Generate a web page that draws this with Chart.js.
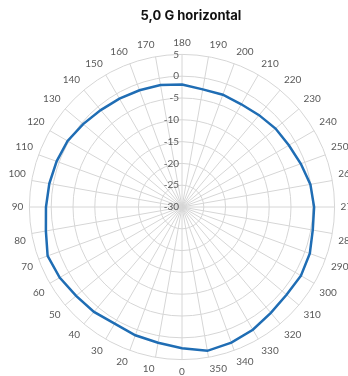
<!DOCTYPE html>
<html>
<head>
<meta charset="utf-8">
<script src="https://cdn.jsdelivr.net/npm/chart.js@4.4.1/dist/chart.umd.min.js"></script>
<style>
  html, body { margin: 0; padding: 0; background: #fff; overflow: hidden; }
  canvas { display: block; }
</style>
</head>
<body>
<!-- canvas a bit larger than the window: the right labels get cut off like in the original -->
<canvas id="chart" width="360" height="381"></canvas>
<script>
// angle labels, clockwise from the top (Excel radar starts at 180 here)
const angles = ["180","190","200","210","220","230","240","250","260","270","280","290",
  "300","310","320","330","340","350","0","10","20","30","40","50",
  "60","70","80","90","100","110","120","130","140","150","160","170"];

// gain in dB, same order as angles
const gain = [-1.9, -2.6, -2.6, -2.8, -2.5, -2.0, -1.7, -1.0, -0.1, 0.3, 0.45, 1.2,
  1.5, 1.3, 1.7, 2.5, 3.1, 3.5, 2.4, 1.6, 1.3, 0.9, 1.4, 1.7,
  2.4, 2.8, 1.7, 1.2, 0.9, 0.6, 0.3, -0.4, -1.0, -1.3, -1.5, -1.6];

const rMin = -30;
const rMax = 5;
const rStep = 5;

// draw the radial tick labels just left of the vertical spoke, like Excel does
const tickLabels = {
  id: "tickLabels",
  afterDraw(chart) {
    const scale = chart.scales.r;
    const ctx = chart.ctx;
    ctx.save();
    ctx.font = "10px Lato";
    ctx.fillStyle = "#595959";
    ctx.textAlign = "right";
    ctx.textBaseline = "middle";
    scale.ticks.forEach(t => {
      const d = scale.getDistanceFromCenterForValue(t.value);
      ctx.fillText(t.label, scale.xCenter - 3, scale.yCenter - d);
    });
    ctx.restore();
  }
};

const ctx = document.getElementById("chart");

const myChart = new Chart(ctx, {
  type: "radar",
  data: {
    labels: angles,
    datasets: [
      {
        label: "5,0 G horizontal",
        data: gain,
        borderColor: "#1f6db4",
        borderWidth: 2.5,
        backgroundColor: "rgba(0,0,0,0)",
        fill: false,
        pointRadius: 0,
        tension: 0,
      },
    ],
  },
  options: {
    responsive: false,
    animation: false,
    layout: {
      // negative right padding only moves the title, the chart area stops at the canvas edge
      padding: { left: 8, right: -14, top: 0, bottom: 0 },
    },
    plugins: {
      legend: { display: false },
      tooltip: { enabled: false },
      title: {
        display: true,
        text: "5,0 G horizontal",
        color: "#111",
        font: { family: "Inter", size: 13, weight: "bold" },
        padding: { top: 8, bottom: 10 },
      },
    },
    scales: {
      r: {
        min: rMin,
        max: rMax,
        ticks: { stepSize: rStep, display: false },
        grid: { circular: true, color: "#d6d6d6", lineWidth: 1 },
        angleLines: { color: "#d6d6d6", lineWidth: 1 },
        pointLabels: {
          color: "#595959",
          font: { family: "Lato", size: 10 },
          padding: 6,
        },
      },
    },
  },
  plugins: [tickLabels],
});
</script>
</body>
</html>
